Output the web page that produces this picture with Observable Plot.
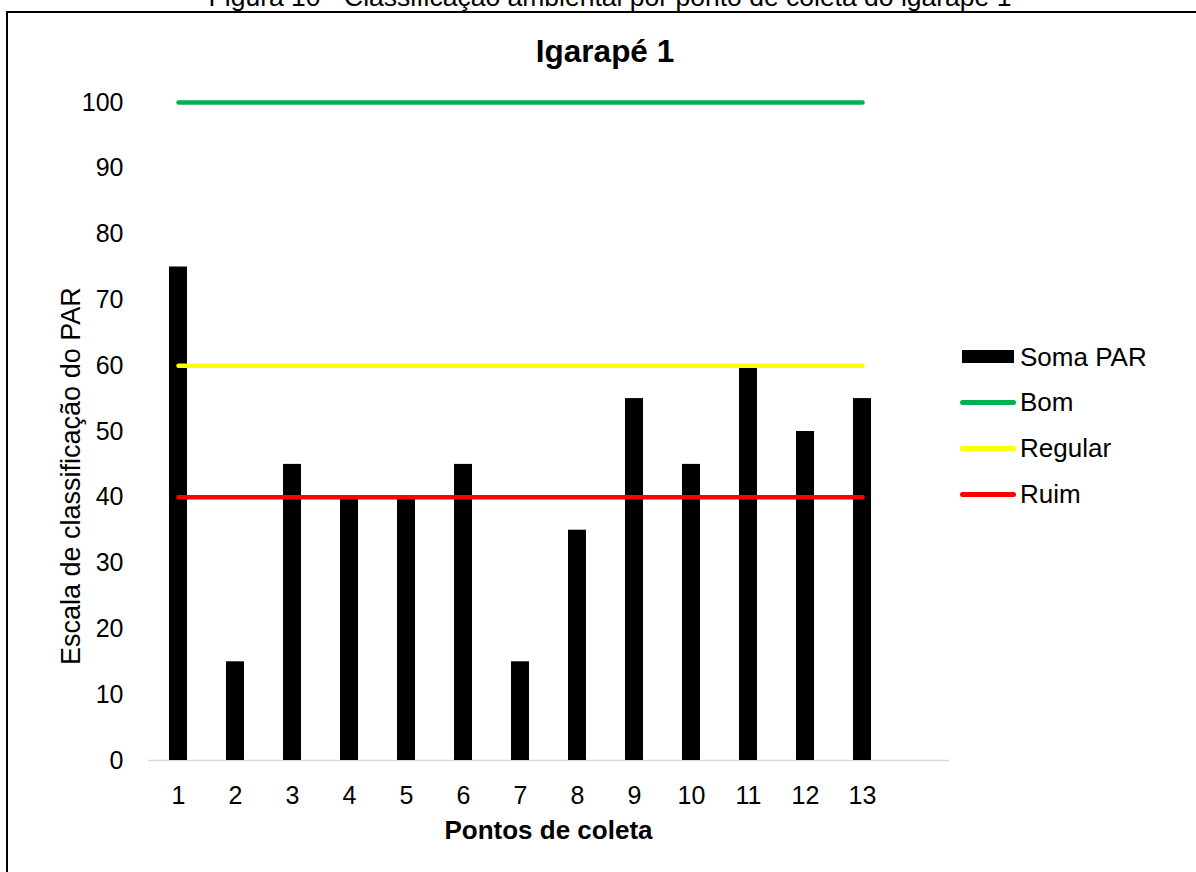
<!DOCTYPE html>
<html>
<head>
<meta charset="utf-8">
<script src="https://cdn.jsdelivr.net/npm/d3@7"></script>
<script src="https://cdn.jsdelivr.net/npm/@observablehq/plot@0.6"></script>
<style>
  html, body { margin: 0; padding: 0; background: #fff; }
  #wrap { position: relative; width: 1196px; height: 872px; overflow: hidden; background: #fff;
          font-family: Arial, "Liberation Sans", sans-serif; color: #000; }
  #wrap .abs { position: absolute; white-space: nowrap; }
  #frame { position: absolute; left: 6px; top: 11px; width: 2000px; height: 2000px; border: 2px solid #000; pointer-events: none; }
  #plot svg { display: block; background: transparent; }
</style>
</head>
<body>
<div id="wrap">
  <div id="plot" class="abs" style="left:0;top:0;"></div>
  <div id="frame"></div>
  <div class="abs" style="left:610px;top:-16px;font-size:26.5px;line-height:26.5px;transform:translateX(-50%);">Figura 10 - Classificação ambiental por ponto de coleta do igarapé 1</div>
  <div class="abs" style="left:605px;top:35.5px;font-size:31.5px;line-height:31.5px;font-weight:bold;transform:translateX(-50%);">Igarapé 1</div>
  <div class="abs" style="left:548.5px;top:817px;font-size:26px;line-height:26px;font-weight:bold;transform:translateX(-50%);">Pontos de coleta</div>
  <div class="abs" style="left:0;top:0;font-size:27px;line-height:27px;transform-origin:0 0;transform:translate(58px,665px) rotate(-90deg);">Escala de classificação do PAR</div>
  <div id="legend"></div>
</div>
<script>
// ---- data ----
const categories = ["1","2","3","4","5","6","7","8","9","10","11","12","13"];
const somaPAR = [75, 15, 45, 40, 40, 45, 15, 35, 55, 45, 60, 50, 55];
const bom     = [100,100,100,100,100,100,100,100,100,100,100,100,100];
const regular = [60, 60, 60, 60, 60, 60, 60, 60, 60, 60, 60, 60, 60];
const ruim    = [40, 40, 40, 40, 40, 40, 40, 40, 40, 40, 40, 40, 40];
const yTicks  = [0, 10, 20, 30, 40, 50, 60, 70, 80, 90, 100];
const seriesNames = ["Soma PAR", "Bom", "Regular", "Ruim"];
const seriesColors = ["#000000", "#00B050", "#FFFF00", "#FF0000"];

const data = categories.map((c, i) => ({ponto: c, soma: somaPAR[i], bom: bom[i], regular: regular[i], ruim: ruim[i]}));

const chart = Plot.plot({
  width: 1196,
  height: 872,
  marginLeft: 148,
  marginRight: 247,
  marginTop: 102,
  marginBottom: 112,
  style: {fontFamily: "Arial, 'Liberation Sans', sans-serif", fontSize: "25px", color: "#000", background: "transparent"},
  x: {type: "band", domain: [...categories, ""], paddingInner: 0.685, paddingOuter: 0.3425, label: null},
  y: {domain: [0, 100], label: null},
  marks: [
    Plot.ruleY([0], {stroke: "#d9d9d9", strokeWidth: 1.5}),
    Plot.barY(data, {x: "ponto", y: "soma", fill: seriesColors[0]}),
    Plot.lineY(data, {x: "ponto", y: "bom", stroke: seriesColors[1], strokeWidth: 4.5, strokeLinecap: "round"}),
    Plot.lineY(data, {x: "ponto", y: "regular", stroke: seriesColors[2], strokeWidth: 4.5, strokeLinecap: "round"}),
    Plot.lineY(data, {x: "ponto", y: "ruim", stroke: seriesColors[3], strokeWidth: 4.5, strokeLinecap: "round"}),
    Plot.axisX({tickSize: 0, tickPadding: 26, label: null, fontSize: 25}),
    Plot.axisY({ticks: yTicks, tickSize: 0, tickPadding: 25, label: null, fontSize: 25})
  ]
});
document.getElementById("plot").appendChild(chart);

// ---- legend ----
const legend = document.getElementById("legend");
const rowY = [356.5, 402, 448, 494];
seriesNames.forEach((name, i) => {
  const y = rowY[i];
  const sw = document.createElement("div");
  sw.className = "abs";
  if (i === 0) {
    Object.assign(sw.style, {left: "962px", top: (y - 6.5) + "px", width: "52px", height: "13px", background: seriesColors[i]});
  } else {
    Object.assign(sw.style, {left: "960px", top: (y - 2.5) + "px", width: "56px", height: "5px", borderRadius: "2.5px", background: seriesColors[i]});
  }
  legend.appendChild(sw);
  const t = document.createElement("div");
  t.className = "abs";
  t.textContent = name;
  Object.assign(t.style, {left: "1020px", top: (y + 9.3 - 22) + "px", fontSize: "26px", lineHeight: "26px"});
  legend.appendChild(t);
});
</script>
</body>
</html>
